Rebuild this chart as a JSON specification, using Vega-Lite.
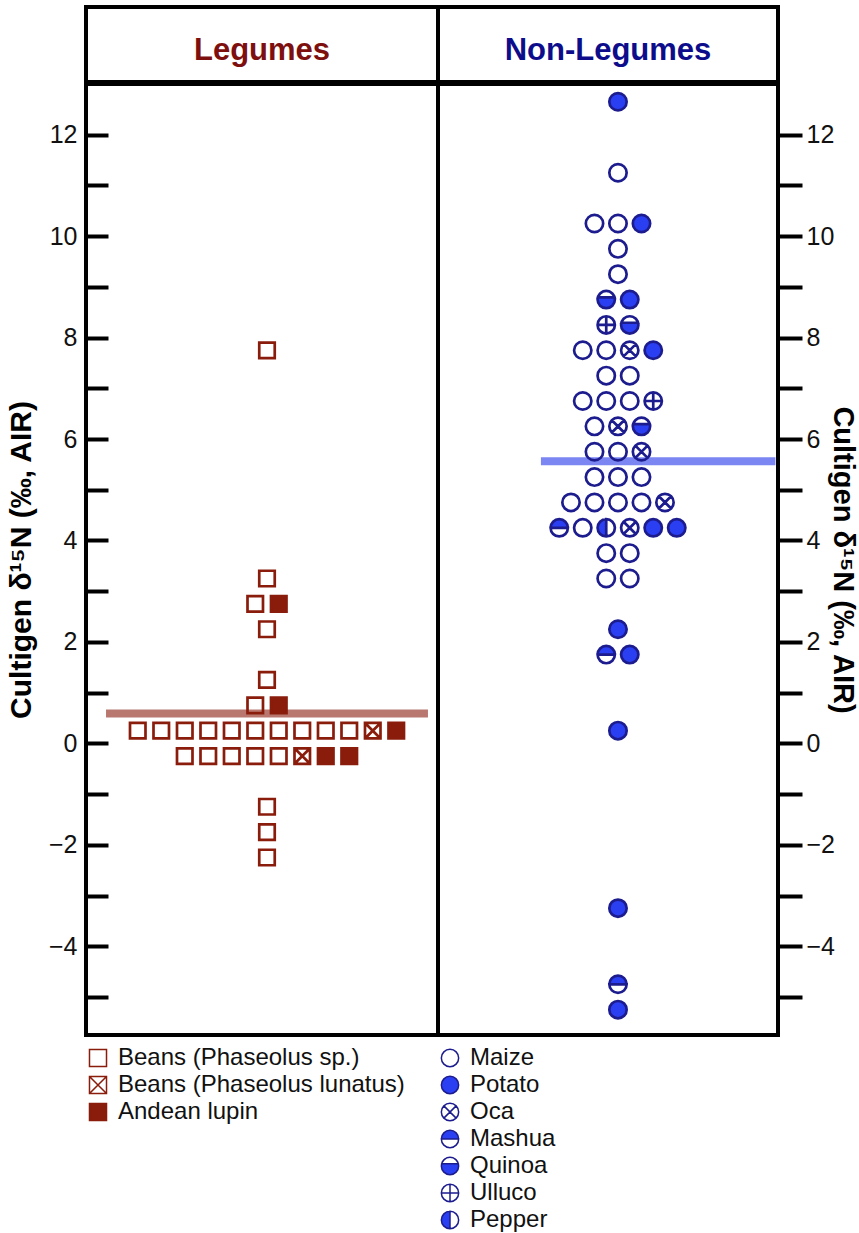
{
  "$schema": "https://vega.github.io/schema/vega-lite/v6.json",
  "background": "white",
  "padding": {"left": 4, "top": 5, "right": 0, "bottom": 0},
  "config": {
    "view": {"stroke": "black", "strokeWidth": 4},
    "font": "Liberation Sans",
    "axis": {"grid": false, "domain": false}
  },
  "datasets": {
    "legumes": [
      {"crop": "Beans (Phaseolus sp.)", "v": 7.75, "col": 0},
      {"crop": "Beans (Phaseolus sp.)", "v": 3.25, "col": 0},
      {"crop": "Beans (Phaseolus sp.)", "v": 2.75, "col": -0.5},
      {"crop": "Andean lupin", "v": 2.75, "col": 0.5},
      {"crop": "Beans (Phaseolus sp.)", "v": 2.25, "col": 0},
      {"crop": "Beans (Phaseolus sp.)", "v": 1.25, "col": 0},
      {"crop": "Beans (Phaseolus sp.)", "v": 0.75, "col": -0.5},
      {"crop": "Andean lupin", "v": 0.75, "col": 0.5},
      {"crop": "Beans (Phaseolus sp.)", "v": 0.25, "col": -5.5},
      {"crop": "Beans (Phaseolus sp.)", "v": 0.25, "col": -4.5},
      {"crop": "Beans (Phaseolus sp.)", "v": 0.25, "col": -3.5},
      {"crop": "Beans (Phaseolus sp.)", "v": 0.25, "col": -2.5},
      {"crop": "Beans (Phaseolus sp.)", "v": 0.25, "col": -1.5},
      {"crop": "Beans (Phaseolus sp.)", "v": 0.25, "col": -0.5},
      {"crop": "Beans (Phaseolus sp.)", "v": 0.25, "col": 0.5},
      {"crop": "Beans (Phaseolus sp.)", "v": 0.25, "col": 1.5},
      {"crop": "Beans (Phaseolus sp.)", "v": 0.25, "col": 2.5},
      {"crop": "Beans (Phaseolus sp.)", "v": 0.25, "col": 3.5},
      {"crop": "Beans (Phaseolus lunatus)", "v": 0.25, "col": 4.5},
      {"crop": "Andean lupin", "v": 0.25, "col": 5.5},
      {"crop": "Beans (Phaseolus sp.)", "v": -0.25, "col": -3.5},
      {"crop": "Beans (Phaseolus sp.)", "v": -0.25, "col": -2.5},
      {"crop": "Beans (Phaseolus sp.)", "v": -0.25, "col": -1.5},
      {"crop": "Beans (Phaseolus sp.)", "v": -0.25, "col": -0.5},
      {"crop": "Beans (Phaseolus sp.)", "v": -0.25, "col": 0.5},
      {"crop": "Beans (Phaseolus lunatus)", "v": -0.25, "col": 1.5},
      {"crop": "Andean lupin", "v": -0.25, "col": 2.5},
      {"crop": "Andean lupin", "v": -0.25, "col": 3.5},
      {"crop": "Beans (Phaseolus sp.)", "v": -1.25, "col": 0},
      {"crop": "Beans (Phaseolus sp.)", "v": -1.75, "col": 0},
      {"crop": "Beans (Phaseolus sp.)", "v": -2.25, "col": 0}
    ],
    "nonlegumes": [
      {"crop": "Potato", "v": 12.65, "col": 0},
      {"crop": "Maize", "v": 11.25, "col": 0},
      {"crop": "Maize", "v": 10.25, "col": -1},
      {"crop": "Maize", "v": 10.25, "col": 0},
      {"crop": "Potato", "v": 10.25, "col": 1},
      {"crop": "Maize", "v": 9.75, "col": 0},
      {"crop": "Maize", "v": 9.25, "col": 0},
      {"crop": "Quinoa", "v": 8.75, "col": -0.5},
      {"crop": "Potato", "v": 8.75, "col": 0.5},
      {"crop": "Ulluco", "v": 8.25, "col": -0.5},
      {"crop": "Quinoa", "v": 8.25, "col": 0.5},
      {"crop": "Maize", "v": 7.75, "col": -1.5},
      {"crop": "Maize", "v": 7.75, "col": -0.5},
      {"crop": "Oca", "v": 7.75, "col": 0.5},
      {"crop": "Potato", "v": 7.75, "col": 1.5},
      {"crop": "Maize", "v": 7.25, "col": -0.5},
      {"crop": "Maize", "v": 7.25, "col": 0.5},
      {"crop": "Maize", "v": 6.75, "col": -1.5},
      {"crop": "Maize", "v": 6.75, "col": -0.5},
      {"crop": "Maize", "v": 6.75, "col": 0.5},
      {"crop": "Ulluco", "v": 6.75, "col": 1.5},
      {"crop": "Maize", "v": 6.25, "col": -1},
      {"crop": "Oca", "v": 6.25, "col": 0},
      {"crop": "Quinoa", "v": 6.25, "col": 1},
      {"crop": "Maize", "v": 5.75, "col": -1},
      {"crop": "Maize", "v": 5.75, "col": 0},
      {"crop": "Oca", "v": 5.75, "col": 1},
      {"crop": "Maize", "v": 5.25, "col": -1},
      {"crop": "Maize", "v": 5.25, "col": 0},
      {"crop": "Maize", "v": 5.25, "col": 1},
      {"crop": "Maize", "v": 4.75, "col": -2},
      {"crop": "Maize", "v": 4.75, "col": -1},
      {"crop": "Maize", "v": 4.75, "col": 0},
      {"crop": "Maize", "v": 4.75, "col": 1},
      {"crop": "Oca", "v": 4.75, "col": 2},
      {"crop": "Mashua", "v": 4.25, "col": -2.5},
      {"crop": "Maize", "v": 4.25, "col": -1.5},
      {"crop": "Pepper", "v": 4.25, "col": -0.5},
      {"crop": "Oca", "v": 4.25, "col": 0.5},
      {"crop": "Potato", "v": 4.25, "col": 1.5},
      {"crop": "Potato", "v": 4.25, "col": 2.5},
      {"crop": "Maize", "v": 3.75, "col": -0.5},
      {"crop": "Maize", "v": 3.75, "col": 0.5},
      {"crop": "Maize", "v": 3.25, "col": -0.5},
      {"crop": "Maize", "v": 3.25, "col": 0.5},
      {"crop": "Potato", "v": 2.25, "col": 0},
      {"crop": "Mashua", "v": 1.75, "col": -0.5},
      {"crop": "Potato", "v": 1.75, "col": 0.5},
      {"crop": "Potato", "v": 0.25, "col": 0},
      {"crop": "Potato", "v": -3.25, "col": 0},
      {"crop": "Mashua", "v": -4.75, "col": 0},
      {"crop": "Potato", "v": -5.25, "col": 0}
    ],
    "means": [
      {"panel": "Legumes", "v": 0.59, "col": -6.85, "col2": 6.85},
      {"panel": "Non-Legumes", "v": 5.56, "col": -3.28, "col2": 6.7}
    ],
    "headers": [
      {"panel": "Legumes"},
      {"panel": "Non-Legumes"}
    ]
  },
  "spacing": -4,
  "vconcat": [
    {
      "spacing": 0,
      "bounds": "flush",
      "hconcat": [
        {
          "width": 352,
          "height": 75,
          "data": {"name": "headers"},
          "transform": [{"filter": "datum.panel === 'Legumes'"}],
          "layer": [
            {"mark": {"type": "rect", "fill": "white", "stroke": "black", "strokeWidth": 4}, "encoding": {}},
            {
              "mark": {"type": "text", "font": "Liberation Sans", "fontWeight": "bold", "fontSize": 31, "color": "#7e0f0f", "baseline": "middle", "align": "center", "dy": 6},
              "encoding": {"text": {"field": "panel"}}
            }
          ]
        },
        {
          "width": 340,
          "height": 75,
          "data": {"name": "headers"},
          "transform": [{"filter": "datum.panel === 'Non-Legumes'"}],
          "layer": [
            {"mark": {"type": "rect", "fill": "white", "stroke": "black", "strokeWidth": 4}, "encoding": {}},
            {
              "mark": {"type": "text", "font": "Liberation Sans", "fontWeight": "bold", "fontSize": 31, "color": "#0d0d8c", "baseline": "middle", "align": "center", "dy": 6},
              "encoding": {"text": {"field": "panel"}}
            }
          ]
        }
      ]
    },
    {
      "spacing": 0,
      "bounds": "flush",
      "resolve": {
        "scale": {"x": "independent", "y": "independent", "shape": "independent", "fill": "independent"},
        "legend": {"shape": "independent", "fill": "independent"}
      },
      "hconcat": [
        {
          "width": 352,
          "height": 951,
          "layer": [
            {
              "data": {"name": "means"},
              "transform": [{"filter": "datum.panel === 'Legumes'"}],
              "mark": {"type": "rule", "strokeWidth": 8, "color": "#b87870"},
              "encoding": {
                "x": {"field": "col", "type": "quantitative", "scale": {"domain": [-7.702, 7.277], "nice": false, "zero": false}, "axis": null},
                "x2": {"field": "col2"},
                "y": {"field": "v", "type": "quantitative", "scale": {"domain": [-5.75, 13], "nice": false, "zero": false},
                  "axis": {"orient": "left", "title": "Cultigen δ¹⁵N (‰, AIR)", "values": [-5,-4,-3,-2,-1,0,1,2,3,4,5,6,7,8,9,10,11,12],
                    "labelExpr": "datum.value % 2 === 0 ? datum.label : ''", "labelOverlap": false, "labelFlush": false,
                    "offset": -22, "tickSize": 22, "tickWidth": 4, "tickColor": "black", "labelFontSize": 25, "labelColor": "#111",
                    "labelPadding": 9, "titleFontSize": 30, "titleFontWeight": "bold", "titleColor": "black", "titlePadding": 12}}
              }
            },
            {
              "data": {"name": "legumes"},
              "mark": {"type": "point", "stroke": "#8a1c0c", "strokeWidth": 2.7, "size": 240, "opacity": 1},
              "encoding": {
                "x": {"field": "col", "type": "quantitative", "scale": {"domain": [-7.702, 7.277], "nice": false, "zero": false}, "axis": null},
                "y": {"field": "v", "type": "quantitative", "scale": {"domain": [-5.75, 13], "nice": false, "zero": false},
                  "axis": {"orient": "left", "title": "Cultigen δ¹⁵N (‰, AIR)", "values": [-5,-4,-3,-2,-1,0,1,2,3,4,5,6,7,8,9,10,11,12],
                    "labelExpr": "datum.value % 2 === 0 ? datum.label : ''", "labelOverlap": false, "labelFlush": false,
                    "offset": -22, "tickSize": 22, "tickWidth": 4, "tickColor": "black", "labelFontSize": 25, "labelColor": "#111",
                    "labelPadding": 9, "titleFontSize": 30, "titleFontWeight": "bold", "titleColor": "black", "titlePadding": 12}},
                "shape": {"field": "crop", "type": "nominal",
                  "scale": {"domain": ["Beans (Phaseolus sp.)", "Beans (Phaseolus lunatus)", "Andean lupin"],
                    "range": ["M-1,-1L1,-1L1,1L-1,1Z", "M-1,-1L1,-1L1,1L-1,1ZM-1,-1L1,1M-1,1L1,-1", "M-1,-1L1,-1L1,1L-1,1Z"]},
                  "legend": {"orient": "bottom", "direction": "vertical", "title": null, "labelFontSize": 24, "labelFont": "Liberation Sans", "labelColor": "#111", "labelLimit": 0, "symbolSize": 290, "labelOffset": 8, "rowPadding": 3, "offset": 11, "padding": 0,
                    "encode": {"symbols": {"update": {"stroke": {"value": "#8a1c0c"}, "strokeWidth": {"value": 2.7}}}}}},
                "fill": {"field": "crop", "type": "nominal",
                  "scale": {"domain": ["Beans (Phaseolus sp.)", "Beans (Phaseolus lunatus)", "Andean lupin"], "range": ["transparent", "transparent", "#8a1c0c"]},
                  "legend": {"orient": "bottom", "direction": "vertical", "title": null, "labelFontSize": 24, "labelFont": "Liberation Sans", "labelColor": "#111", "labelLimit": 0, "symbolSize": 290, "labelOffset": 8, "rowPadding": 3, "offset": 11, "padding": 0,
                    "encode": {"symbols": {"update": {"stroke": {"value": "#8a1c0c"}, "strokeWidth": {"value": 2.7}}}}}}
              }
            }
          ]
        },
        {
          "width": 340,
          "height": 951,
          "layer": [
            {
              "data": {"name": "means"},
              "transform": [{"filter": "datum.panel === 'Non-Legumes'"}],
              "mark": {"type": "rule", "strokeWidth": 8, "color": "#7b86f2"},
              "encoding": {
                "x": {"field": "col", "type": "quantitative", "scale": {"domain": [-7.66, 6.81], "nice": false, "zero": false}, "axis": null},
                "x2": {"field": "col2"},
                "y": {"field": "v", "type": "quantitative", "scale": {"domain": [-5.75, 13], "nice": false, "zero": false},
                  "axis": {"orient": "right", "title": "Cultigen δ¹⁵N (‰, AIR)", "values": [-5,-4,-3,-2,-1,0,1,2,3,4,5,6,7,8,9,10,11,12],
                    "labelExpr": "datum.value % 2 === 0 ? datum.label : ''", "labelOverlap": false, "labelFlush": false,
                    "tickSize": 24, "tickWidth": 4, "tickColor": "black", "labelFontSize": 25, "labelColor": "#111",
                    "labelPadding": 4, "titleFontSize": 29, "titleFontWeight": "bold", "titleColor": "black", "titlePadding": -7}}
              }
            },
            {
              "data": {"name": "nonlegumes"},
              "mark": {"type": "point", "stroke": "#1c1c8e", "strokeWidth": 2.7, "size": 300, "opacity": 1},
              "encoding": {
                "x": {"field": "col", "type": "quantitative", "scale": {"domain": [-7.66, 6.81], "nice": false, "zero": false}, "axis": null},
                "y": {"field": "v", "type": "quantitative", "scale": {"domain": [-5.75, 13], "nice": false, "zero": false},
                  "axis": {"orient": "right", "title": "Cultigen δ¹⁵N (‰, AIR)", "values": [-5,-4,-3,-2,-1,0,1,2,3,4,5,6,7,8,9,10,11,12],
                    "labelExpr": "datum.value % 2 === 0 ? datum.label : ''", "labelOverlap": false, "labelFlush": false,
                    "tickSize": 24, "tickWidth": 4, "tickColor": "black", "labelFontSize": 25, "labelColor": "#111",
                    "labelPadding": 4, "titleFontSize": 29, "titleFontWeight": "bold", "titleColor": "black", "titlePadding": -7}},
                "shape": {"field": "crop", "type": "nominal",
                  "scale": {"domain": ["Maize", "Potato", "Oca", "Mashua", "Quinoa", "Ulluco", "Pepper"],
                    "range": [
                      "M1,0A1,1,0,0,1,-1,0A1,1,0,0,1,1,0Z",
                      "M1,0A1,1,0,0,1,-1,0A1,1,0,0,1,1,0Z",
                      "M1,0A1,1,0,0,1,-1,0A1,1,0,0,1,1,0ZM-0.707,-0.707L0.707,0.707M-0.707,0.707L0.707,-0.707",
                      "M1,0A1,1,0,0,1,-1,0A1,1,0,0,1,1,0ZM1,0L-1,0A1,1,0,0,0,1,0Z",
                      "M1,0A1,1,0,0,1,-1,0A1,1,0,0,1,1,0ZM-0.968,-0.25L0.968,-0.25A1,1,0,0,0,-0.968,-0.25Z",
                      "M1,0A1,1,0,0,1,-1,0A1,1,0,0,1,1,0ZM-1,0L1,0M0,-1L0,1",
                      "M1,0A1,1,0,0,1,-1,0A1,1,0,0,1,1,0ZM0,-1L0,1A1,1,0,0,0,0,-1Z"
                    ]},
                  "legend": {"orient": "bottom", "direction": "vertical", "title": null, "labelFontSize": 24, "labelFont": "Liberation Sans", "labelColor": "#111", "labelLimit": 0, "symbolSize": 300, "labelOffset": 8, "rowPadding": 3, "offset": 11, "padding": 0,
                    "encode": {"symbols": {"update": {"stroke": {"value": "#1c1c8e"}, "strokeWidth": {"value": 2.7}}}}}},
                "fill": {"field": "crop", "type": "nominal",
                  "scale": {"domain": ["Maize", "Potato", "Oca", "Mashua", "Quinoa", "Ulluco", "Pepper"],
                    "range": ["transparent", "#2a3ff2", "transparent", "#2a3ff2", "#2a3ff2", "transparent", "#2a3ff2"]},
                  "legend": {"orient": "bottom", "direction": "vertical", "title": null, "labelFontSize": 24, "labelFont": "Liberation Sans", "labelColor": "#111", "labelLimit": 0, "symbolSize": 300, "labelOffset": 8, "rowPadding": 3, "offset": 11, "padding": 0,
                    "encode": {"symbols": {"update": {"stroke": {"value": "#1c1c8e"}, "strokeWidth": {"value": 2.7}}}}}}
              }
            }
          ]
        }
      ]
    }
  ]
}
